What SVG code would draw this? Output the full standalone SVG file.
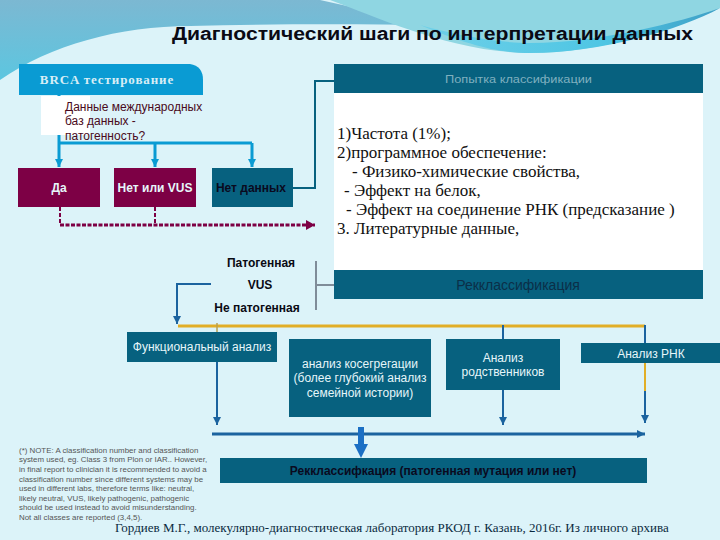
<svg xmlns="http://www.w3.org/2000/svg" width="720" height="540" viewBox="0 0 720 540">
<style>
.s{font-family:"Liberation Sans",Arial,sans-serif}
.f{font-family:"Liberation Serif","Noto Sans",serif}
.t{fill:#07617f}.m{fill:#7d0045}
.c{fill:none;stroke:#1b639f;stroke-width:2}
.w{fill:#e6f6fa;font-size:12px;text-anchor:middle}
.k{fill:#0a0a1e;font-size:12px;font-weight:bold;text-anchor:middle}
.l{fill:#111;font-size:17px}
.n{fill:#555;font-size:7.9px}
.y{fill:none;stroke:#0a9bd3;stroke-width:3}
</style>
<defs>
<linearGradient id="g" x1="0" y1="0" x2="0" y2="1"><stop offset="0" stop-color="#7cb8d2"/><stop offset="1" stop-color="#5cc6e0"/></linearGradient>
<linearGradient id="h" x1="0" y1="0" x2="1" y2="0"><stop offset="0" stop-color="#6fd0e8"/><stop offset=".6" stop-color="#4fc6e4"/><stop offset="1" stop-color="#3f9fc6"/></linearGradient>
<marker id="a" markerUnits="userSpaceOnUse" markerWidth="10" markerHeight="10" refX="8" refY="5" orient="auto"><path d="M0 1L8 5L0 9z" fill="#1b639f"/></marker>
<marker id="b" markerUnits="userSpaceOnUse" markerWidth="10" markerHeight="10" refX="8" refY="5" orient="auto"><path d="M0 1L8 5L0 9z" fill="#0a9bd3"/></marker>
<marker id="d" markerUnits="userSpaceOnUse" markerWidth="10" markerHeight="12" refX="9" refY="6" orient="auto"><path d="M0 1L9 6L0 11z" fill="#7d0045"/></marker>
</defs>
<rect width="720" height="540" fill="#dcf3f9"/>
<path d="M0 80C50 45 120 26 190 26C270 24 350 24 433 25L320 0H0z" fill="url(#g)"/>
<path d="M330 0C380 18 450 52 530 53C600 53 670 30 720 8V0z" fill="#8fd6e2"/>
<path d="M420 25C470 46 500 53 530 53C600 53 680 30 720 8C680 22 600 43 530 43C500 43 460 36 420 25z" fill="url(#h)"/>
<text class="s" x="172" y="40" font-size="18" font-weight="bold" fill="#0a0a14" textLength="521" lengthAdjust="spacingAndGlyphs">Диагностический шаги по интерпретации данных</text>

<g id="connectors">
<path class="y" d="M59 95V167" marker-end="url(#b)"/>
<path class="y" d="M59 143H252"/>
<path class="y" d="M155 143V167" marker-end="url(#b)"/>
<path class="y" d="M252 143V167" marker-end="url(#b)"/>
<path d="M293 188H315V81H334" fill="none" stroke="#07617f" stroke-width="2"/>
<path d="M60 207V225M155 207V225" fill="none" stroke="#7d0045" stroke-width="2" stroke-dasharray="4 2"/>
<path d="M60 225H315" fill="none" stroke="#7d0045" stroke-width="3" stroke-dasharray="4 1.5" marker-end="url(#d)"/>
<path d="M316 261V310M316 285H334" fill="none" stroke="#7f8c99" stroke-width="2"/>
<path d="M517 266V270" fill="none" stroke="#444" stroke-width="1"/>
<path d="M211 284H177V324" class="c" marker-end="url(#a)"/>
<path d="M178 326H645" fill="none" stroke="#e1ae27" stroke-width="3"/>
<path d="M217 323V332" fill="none" stroke="#b8a050" stroke-width="1.5"/>
<path d="M217 361V425" class="c" marker-end="url(#a)"/>
<path d="M503 325V340" class="c"/>
<path d="M503 390V425" class="c" marker-end="url(#a)"/>
<path d="M645 325V344" class="c"/>
<path d="M645 362V391" fill="none" stroke="#e1ae27" stroke-width="2"/>
<path d="M645 391V423" class="c" marker-end="url(#a)"/>
<path d="M212 434H645" fill="none" stroke="#1b639f" stroke-width="3" marker-end="url(#a)"/>
<path d="M361 427V444" fill="none" stroke="#1b6fc4" stroke-width="6"/>
<path d="M354 444H368L361 458z" fill="#1b6fc4"/>
</g>

<g id="brca"><path d="M19 64H190Q203 66 203 80V95H19z" fill="#0a9bd3"/><text class="f" x="107" y="84" font-size="13" font-weight="bold" fill="#d8eef6" text-anchor="middle" letter-spacing=".9">BRCA тестирование</text></g>
<g id="question"><rect x="41" y="96" width="49" height="39" fill="#fff"/><text class="s" x="65" y="111" font-size="12" fill="#4a0a20">Данные международных</text><text class="s" x="65" y="125" font-size="12" fill="#4a0a20">баз данных  -</text><text class="s" x="65" y="140" font-size="12" fill="#4a0a20">патогенность?</text></g>
<g id="yes"><rect class="m" x="18" y="168" width="82" height="39"/><text class="s w" x="59" y="192" font-weight="bold">Да</text></g>
<g id="no"><rect class="m" x="114" y="168" width="82" height="39"/><text class="s w" x="155" y="192" font-weight="bold">Нет или VUS</text></g>
<g id="nodata"><rect class="t" x="212" y="168" width="81" height="39"/><text class="s k" x="251" y="192">Нет данных</text></g>
<g id="classify"><rect x="334" y="93" width="369" height="177" fill="#fff"/><rect class="t" x="334" y="64" width="369" height="29"/><text class="s" x="445" y="83" font-size="11" fill="#7fb0bf" textLength="147" lengthAdjust="spacingAndGlyphs">Попытка классификации</text>
<g class="f l"><text x="337" y="139">1)Частота (1%);</text><text x="337" y="158">2)программное обеспечение:</text><text x="352" y="177">- Физико-химические свойства,</text><text x="344" y="196">-  Эффект на белок,</text><text x="346" y="215">-  Эффект на соединение РНК (предсказание )</text><text x="337" y="234">3.   Литературные данные,</text></g></g>
<g id="reclass"><rect class="t" x="334" y="270" width="369" height="29"/><text class="s" x="518" y="290" font-size="14" fill="#0b2f48" text-anchor="middle">Рекклассификация</text></g>
<g id="labels" class="s" font-size="12" font-weight="bold" fill="#0a0a14" text-anchor="middle"><text x="261" y="267">Патогенная</text><text x="260" y="289">VUS</text><text x="257" y="312">Не патогенная</text></g>
<g id="func"><rect class="t" x="127" y="332" width="150" height="30"/><text class="s w" x="202" y="351">Функциональный анализ</text></g>
<g id="coseg"><rect class="t" x="289" y="339" width="142" height="78"/><text class="s w" x="360" y="368">анализ косегрегации</text><text class="s w" x="360" y="382">(более глубокий анализ</text><text class="s w" x="360" y="397">семейной истории)</text></g>
<g id="relatives"><rect class="t" x="446" y="339" width="114" height="51"/><text class="s w" x="503" y="362">Анализ</text><text class="s w" x="503" y="376">родственников</text></g>
<g id="rna"><rect class="t" x="581" y="343" width="139" height="20"/><text class="s w" x="651" y="358">Анализ РНК</text></g>
<g id="final"><rect class="t" x="220" y="458" width="427" height="25"/><text class="s k" x="433" y="475">Рекклассифкация (патогенная мутация или нет)</text></g>
<g id="note" class="s n"><text x="19" y="453">(*) NOTE: A classification number and classification</text><text x="19" y="462">system used, eg. Class 3 from Plon or IAR.. However,</text><text x="19" y="472">in final report to clinician it is recommended to avoid a</text><text x="19" y="482">classification number since different systems may be</text><text x="19" y="491">used in different labs, therefore terms like: neutral,</text><text x="19" y="501">likely neutral, VUS, likely pathogenic, pathogenic</text><text x="19" y="510">should be used instead to avoid misunderstanding.</text><text x="19" y="520">Not all classes are reported (3,4,5).</text></g>
<text class="f" x="115" y="532" font-size="13" fill="#0a2a40">Гордиев М.Г., молекулярно-диагностическая лаборатория РКОД г. Казань, 2016г. Из личного архива</text>
</svg>
